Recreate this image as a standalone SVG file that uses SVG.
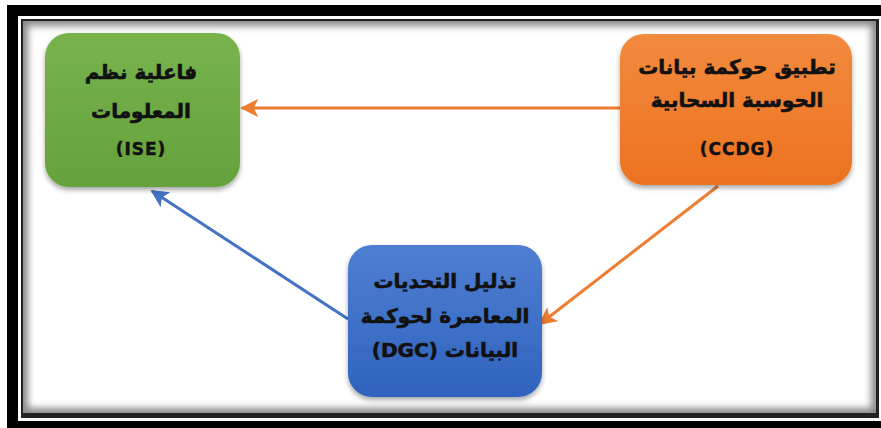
<svg xmlns="http://www.w3.org/2000/svg" width="881" height="428" viewBox="0 0 881 428">
<defs>
<style>
.t{font-family:"DejaVu Sans","Noto Sans",sans-serif;font-weight:bold;font-size:20px;fill:#111;stroke:#111;stroke-width:0.6;text-anchor:middle;direction:rtl}
.l{font-family:"DejaVu Sans","Liberation Sans",sans-serif;font-weight:bold;font-size:17px;fill:#111;stroke:#111;stroke-width:0.4;text-anchor:middle;letter-spacing:1px}
</style>
<linearGradient id="gG" x1="0" y1="0" x2="0" y2="1"><stop offset="0" stop-color="#78b34c"/><stop offset="1" stop-color="#64a23c"/></linearGradient>
<linearGradient id="gO" x1="0" y1="0" x2="0" y2="1"><stop offset="0" stop-color="#f28a3e"/><stop offset="1" stop-color="#ec721f"/></linearGradient>
<linearGradient id="gB" x1="0" y1="0" x2="0" y2="1"><stop offset="0" stop-color="#4f7fd2"/><stop offset="1" stop-color="#2f63bd"/></linearGradient>
<filter id="sh" x="-10%" y="-10%" width="120%" height="130%"><feDropShadow dx="0" dy="3" stdDeviation="2.5" flood-color="#000" flood-opacity="0.35"/></filter>
<filter id="bl" x="-5%" y="-5%" width="110%" height="110%"><feGaussianBlur stdDeviation="3.5"/></filter>
<clipPath id="cp"><rect x="23" y="21" width="853" height="392"/></clipPath>
<marker id="aO" viewBox="0 0 10 10" refX="9" refY="5" markerWidth="6" markerHeight="6" orient="auto-start-reverse" markerUnits="strokeWidth"><path d="M0,0 L10,5 L0,10 L2.5,5 z" fill="#ed7d31"/></marker>
<marker id="aB" viewBox="0 0 10 10" refX="9" refY="5" markerWidth="6" markerHeight="6" orient="auto-start-reverse" markerUnits="strokeWidth"><path d="M0,0 L10,5 L0,10 L2.5,5 z" fill="#4472c4"/></marker>
</defs>
<rect x="0" y="0" width="881" height="428" fill="#fff"/>
<g id="frame">
<rect x="7" y="5" width="880" height="430" fill="#000"/>
<rect x="18" y="16" width="864" height="405" fill="#fff"/>
<rect x="21" y="19" width="858" height="399" fill="#222"/>
<g clip-path="url(#cp)">
<rect x="23" y="21" width="853" height="392" fill="#8a8a8a"/>
<rect x="28" y="26" width="843" height="382" fill="#fff" filter="url(#bl)"/>
</g>
</g>
<g id="connectors" fill="none" stroke-width="3">
<line x1="620" y1="108" x2="242" y2="108" stroke="#ed7d31" marker-end="url(#aO)"/>
<line x1="718" y1="186" x2="540" y2="324" stroke="#ed7d31" marker-end="url(#aO)"/>
<line x1="348" y1="319" x2="152" y2="191" stroke="#4472c4" marker-end="url(#aB)"/>
</g>
<g id="ise">
<rect x="45" y="33" width="195" height="154" rx="24" fill="url(#gG)" filter="url(#sh)"/>
<text class="t" x="141" y="79">فاعلية نظم</text>
<text class="t" x="141" y="118">المعلومات</text>
<text class="l" x="141" y="155">(ISE)</text>
</g>
<g id="ccdg">
<rect x="620" y="34" width="232" height="151" rx="24" fill="url(#gO)" filter="url(#sh)"/>
<text class="t" x="737" y="74">تطبيق حوكمة بيانات</text>
<text class="t" x="737" y="107">الحوسبة السحابية</text>
<text class="l" x="737" y="155">(CCDG)</text>
</g>
<g id="dgc">
<rect x="348" y="245" width="194" height="152" rx="24" fill="url(#gB)" filter="url(#sh)"/>
<text class="t" x="445" y="288">تذليل التحديات</text>
<text class="t" x="445" y="323">المعاصرة لحوكمة</text>
<text class="t" x="445" y="357">البيانات (DGC)</text>
</g>
</svg>
